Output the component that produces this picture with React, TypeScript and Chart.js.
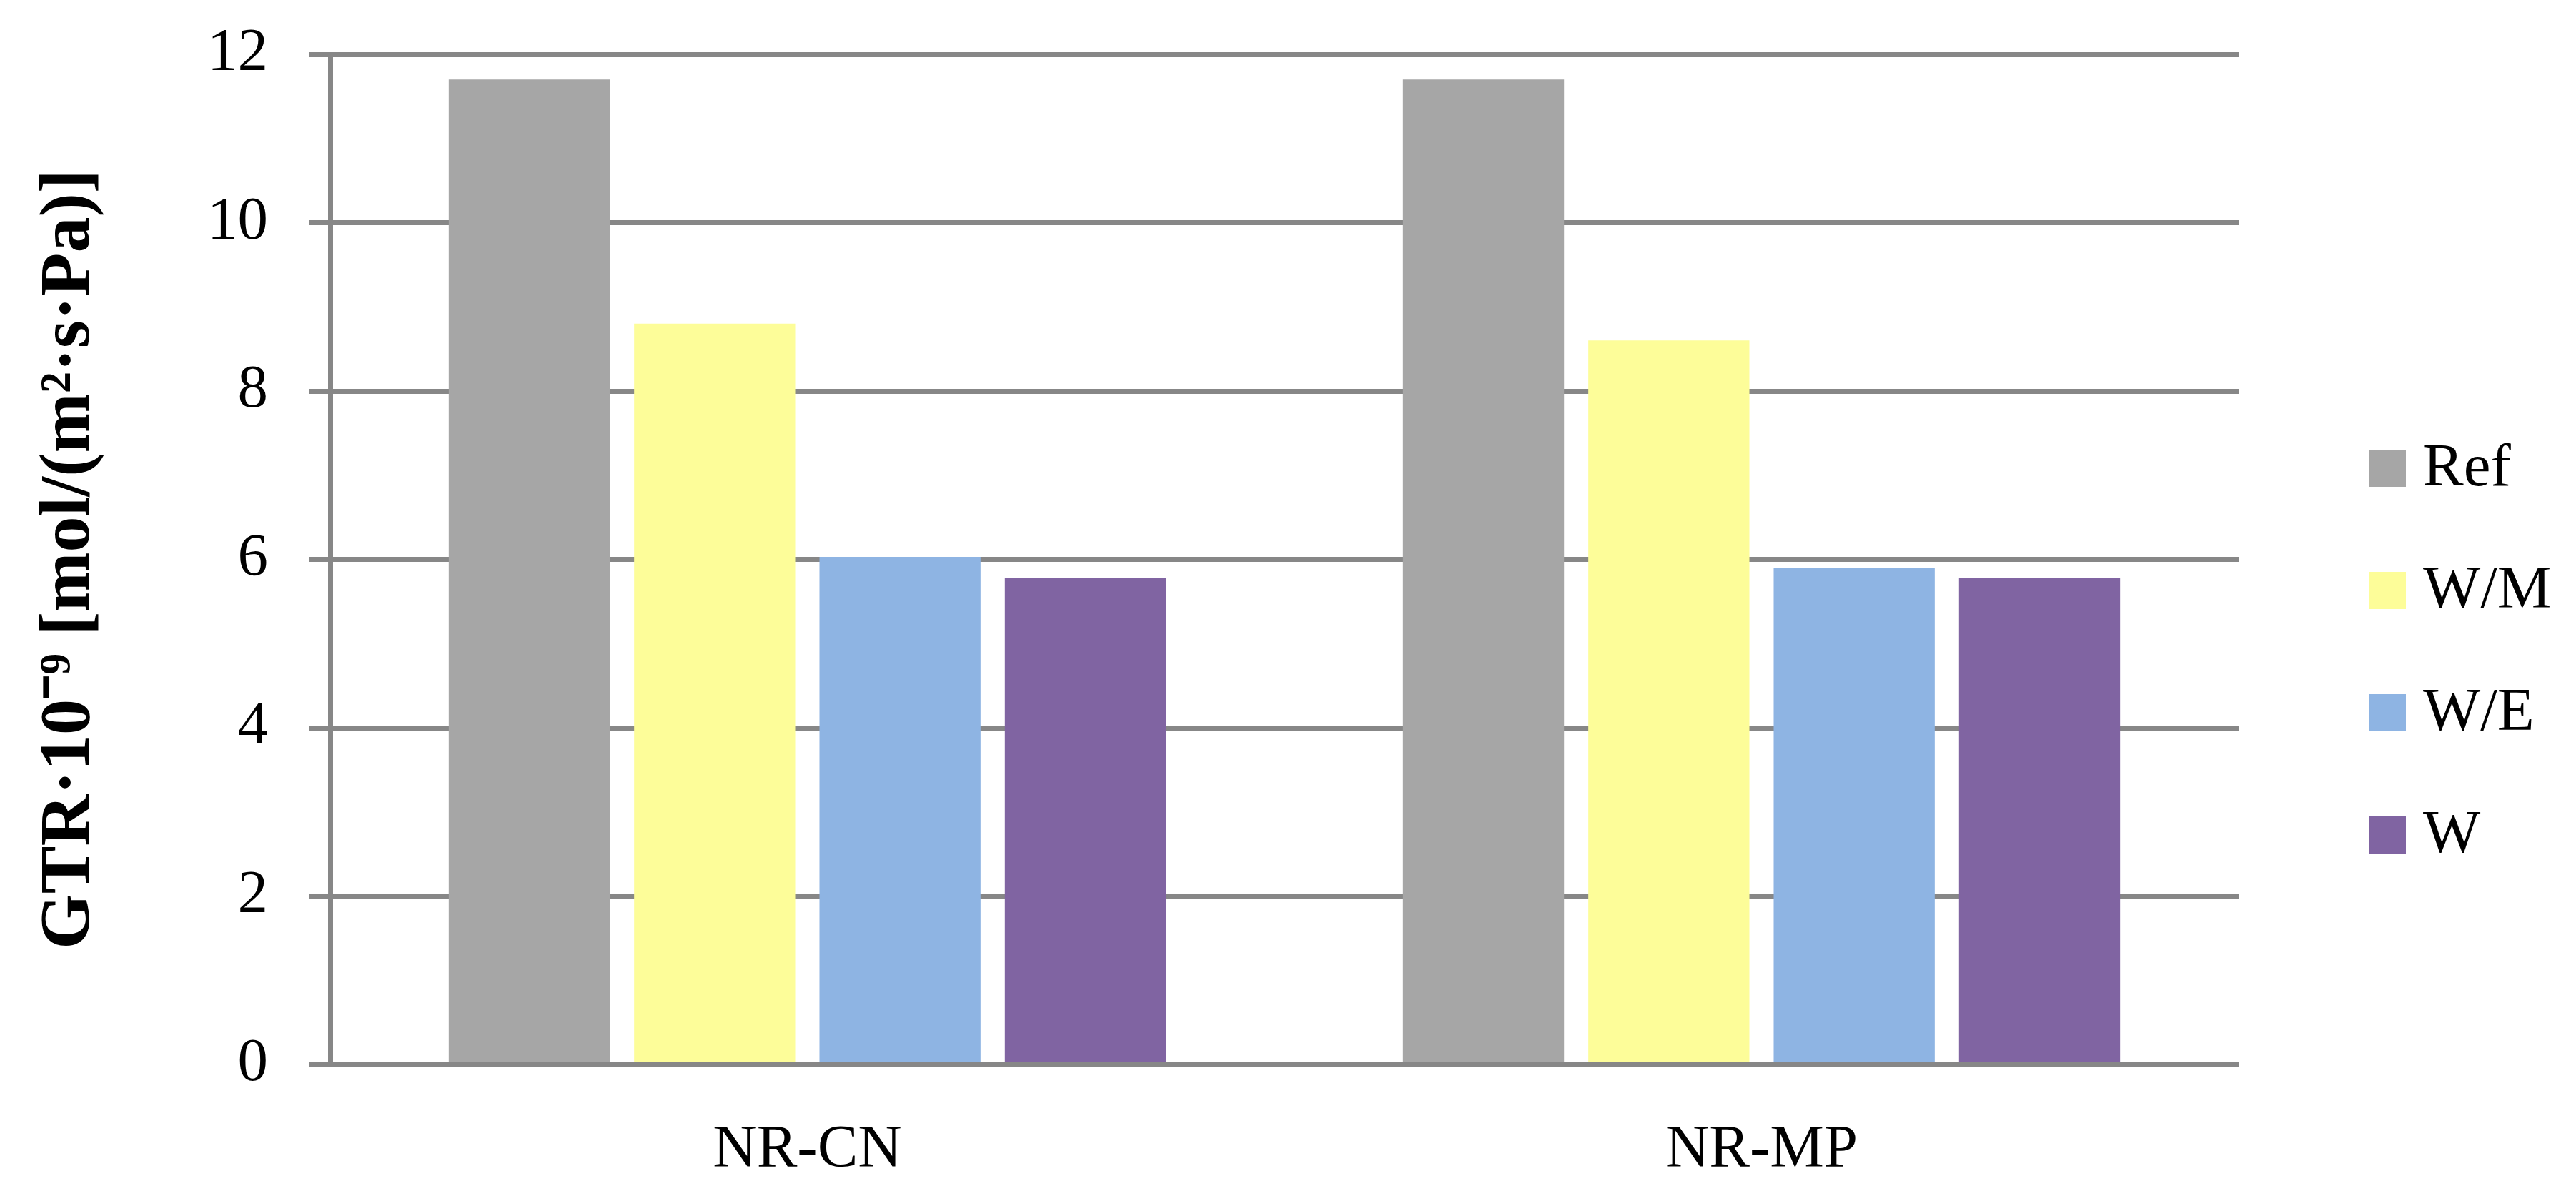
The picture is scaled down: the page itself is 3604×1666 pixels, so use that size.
import React, { useEffect, useRef } from "react";
import { Chart, registerables } from "chart.js";

Chart.register(...registerables);

// ---- data ----
const categories = ["NR-CN", "NR-MP"];
const seriesNames = ["Ref", "W/M", "W/E", "W"];
const refValues = [11.7, 11.7];
const wmValues = [8.8, 8.6];
const weValues = [6.03, 5.9];
const wValues = [5.78, 5.78];
const yTickValues = [0, 2, 4, 6, 8, 10, 12];
const yAxisTitle = "GTR·10⁻⁹ [mol/(m²·s·Pa)]";

// ---- styles ----
const seriesColors = ["#A6A6A6", "#FDFD99", "#8EB4E3", "#8064A2"];
const axisColor = "#878787";
const FONT = "'Liberation Serif', 'Times New Roman', serif";
const W = 3604;
const H = 1666;
const CANVAS_H = 1731;

const sideLegend = {
  id: "sideLegend",
  afterDraw(chart: any) {
    const ctx = chart.ctx;
    ctx.save();
    ctx.font = `85px ${FONT}`;
    ctx.textAlign = "left";
    ctx.textBaseline = "alphabetic";
    chart.data.datasets.forEach((ds: any, i: number) => {
      const yc = 655 + i * 171;
      ctx.fillStyle = ds.backgroundColor;
      ctx.fillRect(3314, yc - 26, 52, 52);
      ctx.fillStyle = "#000";
      ctx.fillText(ds.label, 3390, yc + 24);
    });
    ctx.restore();
  },
};

export default function App() {
  const canvasRef = useRef<HTMLCanvasElement | null>(null);

  useEffect(() => {
    const canvas = canvasRef.current;
    if (!canvas) return;
    const allValues = [refValues, wmValues, weValues, wValues];
    const chart = new Chart(canvas, {
      type: "bar",
      data: {
        labels: categories,
        datasets: seriesNames.map((name, i) => ({
          label: name,
          data: allValues[i],
          backgroundColor: seriesColors[i],
          borderWidth: 0,
          categoryPercentage: 0.777,
          barPercentage: 0.869,
        })),
      },
      options: {
        animation: false,
        responsive: false,
        devicePixelRatio: 1,
        layout: { padding: { left: 38, right: 472, top: 76, bottom: 0 } },
        plugins: {
          legend: { display: false },
          tooltip: { enabled: false },
          title: { display: false },
        },
        scales: {
          x: {
            grid: { display: false, drawTicks: false },
            border: { display: true, color: axisColor, width: 7 },
            ticks: {
              color: "#000",
              padding: 70,
              font: { family: FONT, size: 85 },
            },
          },
          y: {
            min: 0,
            max: 12,
            afterBuildTicks: (axis: any) => {
              axis.ticks = yTickValues.map((v) => ({ value: v }));
            },
            grid: {
              color: axisColor,
              lineWidth: 7,
              tickLength: 29,
              drawTicks: true,
            },
            border: { display: true, color: axisColor, width: 7 },
            ticks: {
              color: "#000",
              padding: 58,
              font: { family: FONT, size: 85, lineHeight: 0.4 },
            },
            title: {
              display: true,
              text: yAxisTitle,
              color: "#000",
              font: { family: FONT, size: 100, weight: "bold" },
              padding: { top: 0, bottom: 74 },
            },
          },
        },
      },
      plugins: [sideLegend],
    });
    return () => chart.destroy();
  }, []);

  return (
    <div style={{ position: "fixed", left: 0, top: 0, width: W, height: H, overflow: "hidden", background: "#fff" }}>
      <canvas ref={canvasRef} width={W} height={CANVAS_H} style={{ width: W, height: CANVAS_H, display: "block" }} />
    </div>
  );
}
